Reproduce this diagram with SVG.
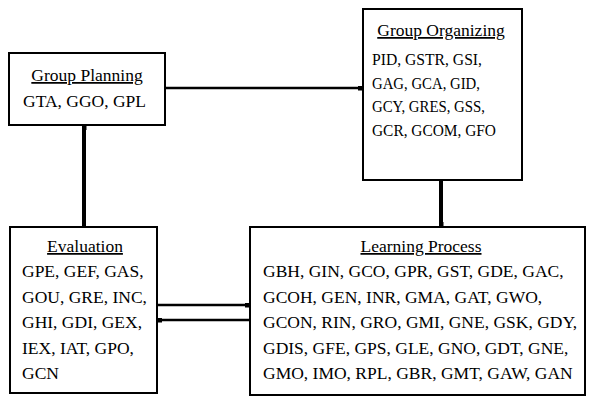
<svg xmlns="http://www.w3.org/2000/svg" width="592" height="398" viewBox="0 0 592 398">
  <defs>
    <marker id="head" viewBox="0 0 5 5" refX="5" refY="2.5" markerWidth="5" markerHeight="5" markerUnits="userSpaceOnUse" orient="auto">
      <rect x="0" y="0" width="5" height="5" fill="#000"/>
    </marker>
  </defs>
  <style>
    .box { fill: #fff; stroke: #000; stroke-width: 2; }
    .t { font-family: "Liberation Serif", "Times New Roman", serif; font-size: 17.5px; fill: #000; }
    .title { text-anchor: middle; text-decoration: underline; }
    .tight { font-size: 17px; }
    .wire { stroke: #000; fill: none; }
    .thin { stroke-width: 2.5; }
    .thick { stroke-width: 4; }
  </style>
  <rect width="592" height="398" fill="#fff"/>

  <g id="connectors">
    <line class="wire thin" x1="165" y1="88" x2="363" y2="88" marker-end="url(#head)"/>
    <line class="wire thick" x1="84" y1="227" x2="84" y2="125" marker-end="url(#head)"/>
    <line class="wire thick" x1="441" y1="180" x2="441" y2="227" marker-end="url(#head)"/>
    <line class="wire thin" x1="157" y1="305" x2="250" y2="305" marker-end="url(#head)"/>
    <line class="wire thin" x1="250" y1="320" x2="157" y2="320" marker-end="url(#head)"/>
  </g>

  <g id="group-planning">
    <rect class="box" x="9" y="53" width="156" height="72"/>
    <text class="t title" x="87" y="81">Group Planning</text>
    <text class="t" x="23" y="107">GTA, GGO, GPL</text>
  </g>

  <g id="group-organizing">
    <rect class="box" x="363" y="9" width="159" height="171"/>
    <text class="t title" x="441" y="36">Group Organizing</text>
    <text class="t tight" x="372" y="65" textLength="110" lengthAdjust="spacingAndGlyphs">PID, GSTR, GSI,</text>
    <text class="t tight" x="372" y="88.5" textLength="108" lengthAdjust="spacingAndGlyphs">GAG, GCA, GID,</text>
    <text class="t tight" x="372" y="112" textLength="113" lengthAdjust="spacingAndGlyphs">GCY, GRES, GSS,</text>
    <text class="t tight" x="372" y="135.5" textLength="124" lengthAdjust="spacingAndGlyphs">GCR, GCOM, GFO</text>
  </g>

  <g id="evaluation">
    <rect class="box" x="10" y="227" width="147" height="166"/>
    <text class="t title" x="85" y="252">Evaluation</text>
    <text class="t" x="22" y="277">GPE, GEF, GAS,</text>
    <text class="t" x="22" y="302.5">GOU, GRE, INC,</text>
    <text class="t" x="22" y="328">GHI, GDI, GEX,</text>
    <text class="t" x="22" y="353.5">IEX, IAT, GPO,</text>
    <text class="t" x="22" y="379">GCN</text>
  </g>

  <g id="learning-process">
    <rect class="box" x="250" y="227" width="335" height="168"/>
    <text class="t title" x="421" y="252">Learning Process</text>
    <text class="t" x="263" y="277">GBH, GIN, GCO, GPR, GST, GDE, GAC,</text>
    <text class="t" x="263" y="302.5">GCOH, GEN, INR, GMA, GAT, GWO,</text>
    <text class="t" x="263" y="328">GCON, RIN, GRO, GMI, GNE, GSK, GDY,</text>
    <text class="t" x="263" y="353.5">GDIS, GFE, GPS, GLE, GNO, GDT, GNE,</text>
    <text class="t" x="263" y="379">GMO, IMO, RPL, GBR, GMT, GAW, GAN</text>
  </g>
</svg>
